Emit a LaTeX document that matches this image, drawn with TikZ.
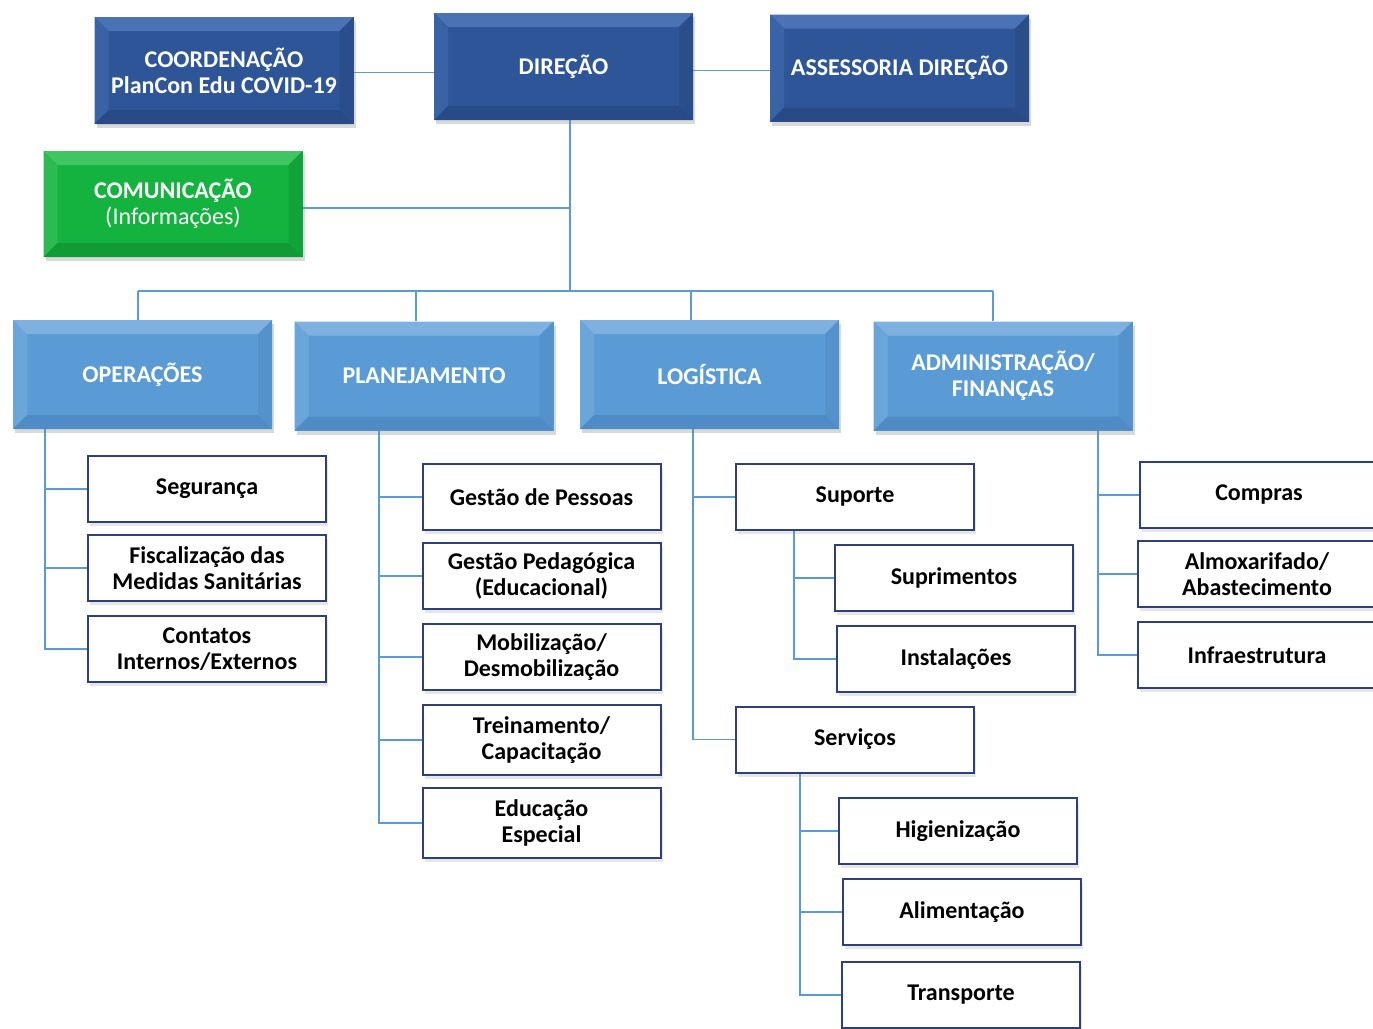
\documentclass[tikz,border=0pt]{standalone}
\usepackage{fontspec}
\setmainfont{Carlito}
\usetikzlibrary{shadows,backgrounds}
\definecolor{dkface}{HTML}{2E5597}
\definecolor{dktop}{HTML}{4A73B6}
\definecolor{dkleft}{HTML}{3A63A6}
\definecolor{dkright}{HTML}{2A4E8C}
\definecolor{dkbot}{HTML}{284A86}
\definecolor{gface}{HTML}{14B23F}
\definecolor{gtop}{HTML}{40C563}
\definecolor{gleft}{HTML}{2CBB52}
\definecolor{gright}{HTML}{12A23A}
\definecolor{gbot}{HTML}{119B37}
\definecolor{lface}{HTML}{5B9BD5}
\definecolor{ltop}{HTML}{7EB1E0}
\definecolor{lleft}{HTML}{6BA6DB}
\definecolor{lright}{HTML}{5492CB}
\definecolor{lbot}{HTML}{4F8CC6}
\definecolor{connc}{HTML}{5B9BD5}
\definecolor{leafline}{HTML}{2F3F7A}
\newcommand\bevdraw[4]{%
  \fill[#1] (path picture bounding box.north west) -- (path picture bounding box.north east)
    -- ([shift={(-14pt,-14pt)}]path picture bounding box.north east)
    -- ([shift={(14pt,-14pt)}]path picture bounding box.north west) -- cycle;
  \fill[#2] (path picture bounding box.north west) -- (path picture bounding box.south west)
    -- ([shift={(14pt,14pt)}]path picture bounding box.south west)
    -- ([shift={(14pt,-14pt)}]path picture bounding box.north west) -- cycle;
  \fill[#3] (path picture bounding box.north east) -- (path picture bounding box.south east)
    -- ([shift={(-14pt,14pt)}]path picture bounding box.south east)
    -- ([shift={(-14pt,-14pt)}]path picture bounding box.north east) -- cycle;
  \fill[#4] (path picture bounding box.south west) -- (path picture bounding box.south east)
    -- ([shift={(-14pt,14pt)}]path picture bounding box.south east)
    -- ([shift={(14pt,14pt)}]path picture bounding box.south west) -- cycle;
}
\tikzset{
  hdr/.style={minimum width=259pt, minimum height=107pt, inner sep=0pt, text=white, align=center,
    drop shadow={opacity=0.3, shadow xshift=2pt, shadow yshift=-4pt}},
  dkbox/.style={hdr, fill=dkface, path picture={\bevdraw{dktop}{dkleft}{dkright}{dkbot}}},
  gbox/.style={hdr, fill=gface, path picture={\bevdraw{gtop}{gleft}{gright}{gbot}}},
  lbox/.style={hdr, minimum height=109pt, fill=lface, path picture={\bevdraw{ltop}{lleft}{lright}{lbot}}},
  leaf/.style={draw=leafline, line width=2pt, fill=white, minimum width=238pt, minimum height=66pt,
    inner sep=0pt, align=center, text=black,
    drop shadow={opacity=0.2, shadow xshift=2pt, shadow yshift=-4pt}},
  conn/.style={draw=connc, line width=1.5pt}
}
\begin{document}
\begin{tikzpicture}[x=1pt,y=-1pt, font=\bfseries\fontsize{24}{26}\selectfont]
\useasboundingbox (0,0) rectangle (1373,1028);
\clip (0,0) rectangle (1373,1028);

% coordinates for connector lines
\coordinate (tk) at (570,291);
\coordinate (bl) at (138,291);
\coordinate (b2) at (416,291);
\coordinate (b3) at (691,291);
\coordinate (br) at (993,291);
\coordinate (ox) at (45,0);
\coordinate (px) at (379,0);
\coordinate (lx) at (693,0);
\coordinate (sx) at (794,0);
\coordinate (vx) at (800,0);
\coordinate (ax) at (1098,0);

% header boxes
\node[dkbox] (coord) at (224,70.5) {COORDENAÇÃO\\PlanCon Edu COVID-19};
\node[dkbox] (dir) at (563.5,66.5) {DIREÇÃO};
\node[dkbox] (ass) at (899.5,68) {ASSESSORIA DIREÇÃO};
\node[gbox, minimum height=106pt] (com) at (173,204) {COMUNICAÇÃO\\{\mdseries (Informações)}};
\node[lbox] (ops) at (142.5,374.5) {OPERAÇÕES};
\node[lbox] (pla) at (424,376) {PLANEJAMENTO};
\node[lbox] (log) at (709.5,374.5) {LOGÍSTICA};
\node[lbox] (adm) at (1003,376) {ADMINISTRAÇÃO/\\FINANÇAS};

% leaf boxes
\node[leaf] (seg) at (207,489) {Segurança};
\node[leaf] (fis) at (207,568) {Fiscalização das\\Medidas Sanitárias};
\node[leaf] (con) at (207,649) {Contatos\\Internos/Externos};

\node[leaf] (gp) at (541.5,497) {Gestão de Pessoas};
\node[leaf] (gped) at (541.5,576) {Gestão Pedagógica\\(Educacional)};
\node[leaf] (mob) at (541.5,657) {Mobilização/\\Desmobilização};
\node[leaf, minimum height=70pt] (tre) at (541.5,740) {Treinamento/\\Capacitação};
\node[leaf, minimum height=70pt] (edu) at (541.5,823) {Educação\\Especial};

\node[leaf] (sup) at (855,497) {Suporte};
\node[leaf] (supr) at (954,578) {Suprimentos};
\node[leaf] (inst) at (956,659) {Instalações};
\node[leaf] (serv) at (855,739.5) {Serviços};
\node[leaf] (hig) at (958,831) {Higienização};
\node[leaf] (ali) at (962,912) {Alimentação};
\node[leaf] (tra) at (961,995) {Transporte};

\node[leaf] (cmp) at (1259,495) {Compras};
\node[leaf] (alm) at (1257,574) {Almoxarifado/\\Abastecimento};
\node[leaf] (inf) at (1257,655) {Infraestrutura};

\begin{scope}[on background layer]
\draw[conn] ([yshift=-2pt]coord.east) -- ([yshift=-2pt]coord.east -| dir.west);
\draw[conn] ([yshift=-4pt]dir.east) -- ([yshift=-4pt]dir.east -| ass.west);
\draw[conn] (dir.south -| tk) -- (tk);
\draw[conn] ([yshift=-4pt]com.east) -- ([yshift=-4pt]com.east -| tk);
\draw[conn] (bl) -- (br);
\draw[conn] (bl) -- (bl |- ops.north);
\draw[conn] (b2) -- (b2 |- pla.north);
\draw[conn] (b3) -- (b3 |- log.north);
\draw[conn] (br) -- (br |- adm.north);
\foreach \n in {seg,fis,con} \draw[conn] (ops.south -| ox) |- (\n.west);
\foreach \n in {gp,gped,mob,tre,edu} \draw[conn] (pla.south -| px) |- (\n.west);
\foreach \n in {sup,serv} \draw[conn] (log.south -| lx) |- (\n.west);
\foreach \n in {supr,inst} \draw[conn] (sup.south -| sx) |- (\n.west);
\foreach \n in {hig,ali,tra} \draw[conn] (serv.south -| vx) |- (\n.west);
\foreach \n in {cmp,alm,inf} \draw[conn] (adm.south -| ax) |- (\n.west);
\end{scope}
\end{tikzpicture}
\end{document}
